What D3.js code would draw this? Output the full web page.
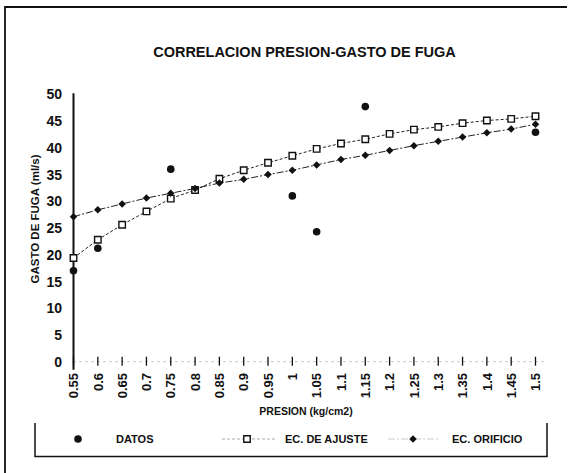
<!DOCTYPE html>
<html><head><meta charset="utf-8">
<script src="https://cdn.jsdelivr.net/npm/d3@7"></script>
<style>body{margin:0;background:#fff}svg{display:block}text{font-family:"Liberation Sans",Arial,sans-serif;font-weight:bold;fill:#111}</style>
</head><body>
<script>
const categories = ["0.55","0.6","0.65","0.7","0.75","0.8","0.85","0.9","0.95","1","1.05","1.1","1.15","1.2","1.25","1.3","1.35","1.4","1.45","1.5"];
const datos = [17.0,21.2,null,null,36.0,null,null,null,null,31.0,24.3,null,47.7,null,null,null,null,null,null,42.9];
const ecAjuste = [19.4,22.8,25.6,28.1,30.5,32.1,34.2,35.8,37.2,38.5,39.8,40.8,41.6,42.6,43.4,43.9,44.6,45.1,45.4,45.9];
const ecOrificio = [27.1,28.4,29.5,30.6,31.5,32.4,33.4,34.1,35.0,35.8,36.8,37.8,38.6,39.5,40.4,41.2,42.0,42.8,43.5,44.4];
const yTicks = [0,5,10,15,20,25,30,35,40,45,50];
const title = "CORRELACION PRESION-GASTO DE FUGA";
const xTitle = "PRESION (kg/cm2)";
const yTitle = "GASTO DE FUGA (ml/s)";
const legendLabels = ["DATOS","EC. DE AJUSTE","EC. ORIFICIO"];

const W=570,H=473;
const svg=d3.select("body").append("svg").attr("width",W).attr("height",H);
svg.append("rect").attr("width",W).attr("height",H).attr("fill","#fff");

// outer frame (left + top visible)
svg.append("path").attr("d","M5,473V7H567").attr("fill","none").attr("stroke","#111").attr("stroke-width",1.8);

const x=d3.scalePoint().domain(categories).range([73.5,535.5]);
const y=d3.scaleLinear().domain([0,50]).range([361.7,94.3]);

// title
svg.append("text").attr("x",304.5).attr("y",57).attr("text-anchor","middle").style("font-size","14.5px").text(title);

// faint x baseline
svg.append("line").attr("x1",73).attr("x2",547).attr("y1",y(0)).attr("y2",y(0))
  .attr("stroke","#bbb").attr("stroke-width",0.8).attr("stroke-dasharray","3,3");

// x ticks & labels
const xa=svg.append("g");
categories.forEach(c=>{
  xa.append("line").attr("x1",x(c)).attr("x2",x(c)).attr("y1",y(0)-5).attr("y2",y(0)+4).attr("stroke","#111").attr("stroke-width",1.3);
  xa.append("text").attr("transform",`translate(${x(c)},373) rotate(-90)`).attr("text-anchor","end").attr("dy","0.36em")
    .style("font-size","13px").text(c);
});

// y axis
svg.append("line").attr("x1",73.5).attr("x2",73.5).attr("y1",y(50)-1).attr("y2",y(0)+8).attr("stroke","#111").attr("stroke-width",2);
yTicks.forEach(t=>{
  svg.append("text").attr("x",62).attr("y",y(t)).attr("dy","0.36em").attr("text-anchor","end").style("font-size","14px").text(t);
});

// axis titles
svg.append("text").attr("x",306).attr("y",415).attr("text-anchor","middle").style("font-size","10.5px").text(xTitle);
svg.append("text").attr("transform","translate(39,219) rotate(-90)").attr("text-anchor","middle").style("font-size","11.5px").text(yTitle);

// series lines
const idx=categories.map((c,i)=>i);
const line=arr=>d3.line().x(i=>x(categories[i])).y(i=>y(arr[i]))(idx);
svg.append("path").attr("d",line(ecAjuste)).attr("fill","none").attr("stroke","#222").attr("stroke-width",1).attr("stroke-dasharray","3,2");
svg.append("path").attr("d",line(ecOrificio)).attr("fill","none").attr("stroke","#222").attr("stroke-width",1).attr("stroke-dasharray","7,2,2,2");

// markers
const diamond=d3.symbol(d3.symbolDiamond2,36)();
svg.append("g").selectAll("path").data(idx).join("path")
  .attr("transform",i=>`translate(${x(categories[i])},${y(ecAjuste[i])})`)
  .attr("d",d3.symbol(d3.symbolSquare,42)()).attr("fill","#fff").attr("stroke","#111").attr("stroke-width",1.4);
svg.append("g").selectAll("path").data(idx).join("path")
  .attr("transform",i=>`translate(${x(categories[i])},${y(ecOrificio[i])})`)
  .attr("d",diamond).attr("fill","#111");
svg.append("g").selectAll("circle").data(idx.filter(i=>datos[i]!=null)).join("circle")
  .attr("cx",i=>x(categories[i])).attr("cy",i=>y(datos[i])).attr("r",3.8).attr("fill","#111");

// legend
svg.append("path").attr("d","M35,423V456.5H547V423").attr("fill","none").attr("stroke","#111").attr("stroke-width",1.5);
const ly=439;
svg.append("circle").attr("cx",78).attr("cy",ly).attr("r",3.8).attr("fill","#111");
svg.append("text").attr("x",116).attr("y",ly).attr("dy","0.36em").style("font-size","11px").text(legendLabels[0]);
svg.append("line").attr("x1",222).attr("x2",276).attr("y1",ly).attr("y2",ly).attr("stroke","#aaa").attr("stroke-width",1).attr("stroke-dasharray","3,2");
svg.append("path").attr("transform",`translate(247,${ly})`).attr("d",d3.symbol(d3.symbolSquare,42)()).attr("fill","#fff").attr("stroke","#111").attr("stroke-width",1.4);
svg.append("text").attr("x",285).attr("y",ly).attr("dy","0.36em").style("font-size","11px").text(legendLabels[1]);
svg.append("line").attr("x1",388).attr("x2",440).attr("y1",ly).attr("y2",ly).attr("stroke","#ccc").attr("stroke-width",1).attr("stroke-dasharray","7,2,2,2");
svg.append("path").attr("transform",`translate(413,${ly})`).attr("d",diamond).attr("fill","#111");
svg.append("text").attr("x",452).attr("y",ly).attr("dy","0.36em").style("font-size","11px").text(legendLabels[2]);
</script>
</body></html>
